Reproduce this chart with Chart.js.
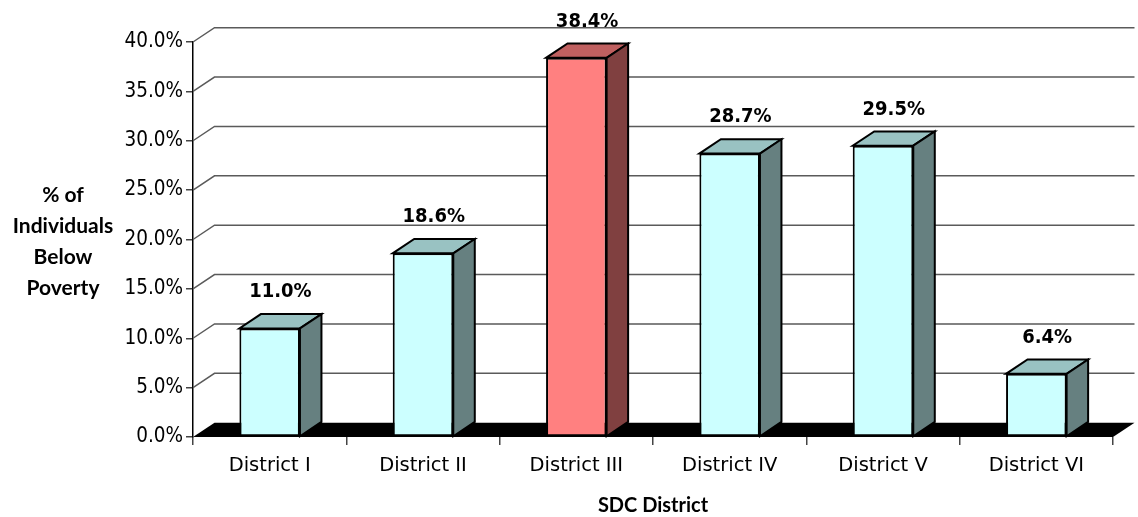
<!DOCTYPE html>
<html>
<head>
<meta charset="utf-8">
<script src="https://cdn.jsdelivr.net/npm/chart.js@4"></script>
<style>
  html, body { margin: 0; padding: 0; background: #ffffff; }
  #wrap { width: 1138px; height: 517px; position: relative; }
</style>
</head>
<body>
<div id="wrap"><canvas id="c"></canvas></div>
<script>
// ---- data ----
const categories = ['District I', 'District II', 'District III', 'District IV', 'District V', 'District VI'];
const povertyPct = [11.0, 18.6, 38.4, 28.7, 29.5, 6.4];
const highlightCategory = 'District III';
const yMin = 0;
const yMax = 40;
const yStep = 5;
const xTitle = 'SDC District';
const yTitleLines = ['% of', 'Individuals', 'Below', 'Poverty'];

// ---- styles ----
const DEPTH_X = 21.5;
const DEPTH_Y = -14.3;
const normalColors = { front: '#CCFFFF', top: '#99C2C2', side: '#668080' };
const highColors = { front: '#FF8080', top: '#C06060', side: '#804040' };
const gridColor = '#5a5a5a';
const condensed = '"DejaVu Sans Condensed", "DejaVu Sans", sans-serif';

function colorsFor(i) {
  return categories[i] === highlightCategory ? highColors : normalColors;
}

const threeD = {
  id: 'threeD',
  beforeDatasetsDraw(chart) {
    const ctx = chart.ctx;
    const { left, right } = chart.chartArea;
    const ys = chart.scales.y;
    ctx.save();
    ctx.strokeStyle = gridColor;
    ctx.lineWidth = 1.5;
    ys.ticks.forEach(t => {
      if (t.value === yMin) return;
      const y = ys.getPixelForValue(t.value);
      ctx.beginPath();
      ctx.moveTo(left, y);
      ctx.lineTo(left + DEPTH_X, y + DEPTH_Y);
      ctx.lineTo(right + DEPTH_X, y + DEPTH_Y);
      ctx.stroke();
    });
    const y0 = ys.getPixelForValue(yMin);
    ctx.fillStyle = '#000000';
    ctx.beginPath();
    ctx.moveTo(left, y0);
    ctx.lineTo(right, y0);
    ctx.lineTo(right + DEPTH_X, y0 + DEPTH_Y);
    ctx.lineTo(left + DEPTH_X, y0 + DEPTH_Y);
    ctx.closePath();
    ctx.fill();
    ctx.restore();
  },
  afterDatasetsDraw(chart) {
    const ctx = chart.ctx;
    const meta = chart.getDatasetMeta(0);
    ctx.save();
    ctx.lineWidth = 2;
    ctx.lineJoin = 'miter';
    ctx.strokeStyle = '#000000';
    meta.data.forEach((el, i) => {
      const p = el.getProps(['x', 'y', 'base', 'width'], true);
      const l = p.x - p.width / 2;
      const r = p.x + p.width / 2;
      const c = colorsFor(i);
      ctx.fillStyle = c.top;
      ctx.beginPath();
      ctx.moveTo(l, p.y);
      ctx.lineTo(r, p.y);
      ctx.lineTo(r + DEPTH_X, p.y + DEPTH_Y);
      ctx.lineTo(l + DEPTH_X, p.y + DEPTH_Y);
      ctx.closePath();
      ctx.fill();
      ctx.stroke();
      ctx.fillStyle = c.side;
      ctx.beginPath();
      ctx.moveTo(r, p.y);
      ctx.lineTo(r + DEPTH_X, p.y + DEPTH_Y);
      ctx.lineTo(r + DEPTH_X, p.base + DEPTH_Y);
      ctx.lineTo(r, p.base);
      ctx.closePath();
      ctx.fill();
      ctx.stroke();
      ctx.fillStyle = '#000000';
      ctx.font = 'bold 20px ' + condensed;
      ctx.textAlign = 'center';
      ctx.textBaseline = 'middle';
      ctx.fillText(povertyPct[i].toFixed(1) + '%', p.x + DEPTH_X / 2, p.y + DEPTH_Y - 22);
    });
    ctx.restore();
  },
  afterDraw(chart) {
    const ctx = chart.ctx;
    const { top, bottom, left, right } = chart.chartArea;
    ctx.save();
    ctx.fillStyle = '#000000';
    ctx.textAlign = 'center';
    ctx.textBaseline = 'middle';
    ctx.font = 'bold 21px Lato';
    const lh = 31;
    const cy = (top + bottom) / 2 + 2;
    yTitleLines.forEach((s, k) => {
      ctx.fillText(s, 63, cy + (k - (yTitleLines.length - 1) / 2) * lh);
    });
    ctx.font = 'bold 20px Lato';
    ctx.fillText(xTitle, (left + right) / 2, 506);
    ctx.restore();
  }
};

new Chart(document.getElementById('c'), {
  type: 'bar',
  data: {
    labels: categories,
    datasets: [{
      data: povertyPct,
      backgroundColor: categories.map((_, i) => colorsFor(i).front),
      borderColor: '#000000',
      borderWidth: 2,
      borderSkipped: false,
      barPercentage: 0.395,
      categoryPercentage: 1.0
    }]
  },
  options: {
    responsive: true,
    maintainAspectRatio: false,
    animation: false,
    events: [],
    layout: { padding: { top: 42, right: 25, bottom: 0, left: 0 } },
    plugins: { legend: { display: false }, tooltip: { enabled: false } },
    scales: {
      x: {
        offset: true,
        grid: { display: true, drawOnChartArea: false, drawTicks: true, tickLength: 8, color: '#444444', lineWidth: 1.5, offset: true },
        border: { display: false },
        ticks: { color: '#000000', font: { family: 'DejaVu Sans', size: 19.5 }, padding: 9, maxRotation: 0 },
        afterFit(scale) { scale.height = 80; }
      },
      y: {
        min: yMin,
        max: yMax,
        grid: { display: true, drawOnChartArea: false, drawTicks: true, tickLength: 7, color: '#444444', lineWidth: 1.5 },
        border: { display: true, color: '#000000', width: 1.5 },
        ticks: {
          stepSize: yStep,
          color: '#000000',
          padding: 3,
          font: { family: condensed, size: 20.5 },
          callback: v => Number(v).toFixed(1) + '%'
        },
        afterFit(scale) { scale.width = 193; }
      }
    }
  },
  plugins: [threeD]
});
</script>
</body>
</html>
